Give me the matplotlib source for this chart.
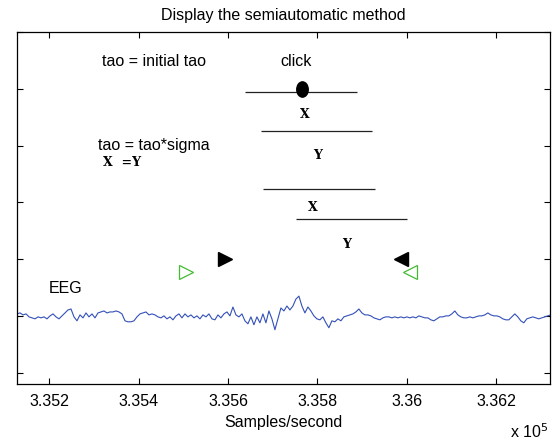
import numpy as np
import matplotlib
matplotlib.use('Agg')
import matplotlib.pyplot as plt
from matplotlib.path import Path
from matplotlib.transforms import Affine2D
from matplotlib.ticker import FuncFormatter

plt.rcParams['font.family'] = ['Liberation Sans', 'DejaVu Sans']

# EEG trace (amplitude, arbitrary units, up = positive), evenly sampled
eeg = [2, 3, 1, 2, -1, -2, -3, -1, -2, -1, -3, 0, 2, -1, -3, 0, 3, 6, 7, -1,
       -5, 1, -2, 3, -1, 2, -2, 3, 4, 5, 3, 4, 4, 5, 4, 2, -5, -6, -6, -5,
       -1, 2, 3, 4, 1, 2, 1, -1, -2, 0, -3, -1, -4, 0, 2, -2, 2, -1, 1, -2,
       0, -3, 1, -1, 2, -3, -4, 1, -2, 2, 4, 0, 9, 1, -1, 2, -5, -8, -1, -9,
       -1, -7, 2, -7, 5, -3, -14, -3, 8, 5, 10, 6, 10, 17, 20, 10, 3, 9, 5, 0,
       -3, -4, -1, -7, -12, -5, -6, -3, -5, -1, 0, 1, 2, 4, 7, 3, 1, 1, 0, -2,
       -3, -4, -2, -1, -1, -2, -1, -2, -1, -2, -1, -2, -1, -2, 0, -1, -2, -2, -4, -5,
       -3, -1, -1, 0, 0, 2, 5, 1, -1, -2, -2, -1, -2, -1, 0, 0, 1, 3, 1, 0,
       0, -1, -3, -4, -4, -1, 2, -1, -5, -7, -3, -2, -1, -2, -3, -2, -1, 0, 1]
eeg_start, eeg_end = 335128, 336322
eeg_offset = 1.0
eeg_gain = 0.0174

# segments: (x start, x end, level)
seg_x0 = [335638, 335674, 335678, 335751]
seg_x1 = [335888, 335923, 335928, 336001]
seg_y = [4.94, 4.25, 3.24, 2.70]

# click point
click_x, click_y = 335766, 4.99

# markers
black_right = (335594, 2.0)
black_left = (335987, 2.0)
green_right = (335507, 1.78)
green_left = (336007, 1.78)

# mono labels
mono_labels = ['X', 'Y', 'X', 'Y']
mono_x = [335772, 335800, 335790, 335866]
mono_y = [4.54, 3.83, 2.91, 2.26]

xticks = [335200, 335400, 335600, 335800, 336000, 336200]

fs = 11.5
mono = dict(family='DejaVu Serif', weight='bold', fontsize=9)

fig = plt.figure(figsize=(5.58, 4.4), dpi=100)
ax = fig.add_axes([0.0305, 0.1273, 0.955, 0.7997])

t = np.linspace(eeg_start, eeg_end, len(eeg))
ax.plot(t, eeg_offset + np.array(eeg) * eeg_gain, color='#3350b8', lw=0.8)

ax.hlines(seg_y, seg_x0, seg_x1, color='#222222', lw=0.9)

ellipse = Path.unit_circle().transformed(Affine2D().scale(0.75, 1.0))
ax.plot(click_x, click_y, marker=ellipse, ms=11, color='k', ls='none')

ax.plot(*black_right, marker='>', ms=10.5, color='k', ls='none')
ax.plot(*black_left, marker='<', ms=10.5, color='k', ls='none')
ax.plot(*green_right, marker='>', ms=10.5, mfc='none', mec='#44bb33', mew=0.9, ls='none')
ax.plot(*green_left, marker='<', ms=10.5, mfc='none', mec='#44bb33', mew=0.9, ls='none')

for s, x, y in zip(mono_labels, mono_x, mono_y):
    ax.text(x, y, s, ha='center', va='center', **mono)

ax.text(335318, 5.49, 'tao = initial tao', fontsize=fs, va='center')
ax.text(335718, 5.49, 'click', fontsize=fs, va='center')
ax.text(335309, 4.01, 'tao = tao*sigma', fontsize=fs, va='center')
ax.text(335320, 3.71, 'X  =Y', va='center', **mono)
ax.text(335200, 1.49, 'EEG', fontsize=fs, va='center')

ax.set_xlim(335128, 336320)
ax.set_ylim(-0.2, 5.92)
ax.set_xticks(xticks)
ax.xaxis.set_major_formatter(FuncFormatter(lambda v, p: '%g' % (v / 1e5)))
ax.set_yticks(range(7))
ax.set_yticklabels([])
ax.tick_params(direction='in', length=4, width=0.8, top=True, right=True, labelsize=fs, pad=7.5)
for sp in ax.spines.values():
    sp.set_linewidth(0.9)

ax.set_title('Display the semiautomatic method', fontsize=fs, pad=8.5)
ax.set_xlabel('Samples/second', fontsize=fs, labelpad=4)
ax.text(0.997, -0.153, 'x 10$^5$', transform=ax.transAxes, fontsize=fs, ha='right', va='baseline')

fig.savefig('out.png', dpi=100)
